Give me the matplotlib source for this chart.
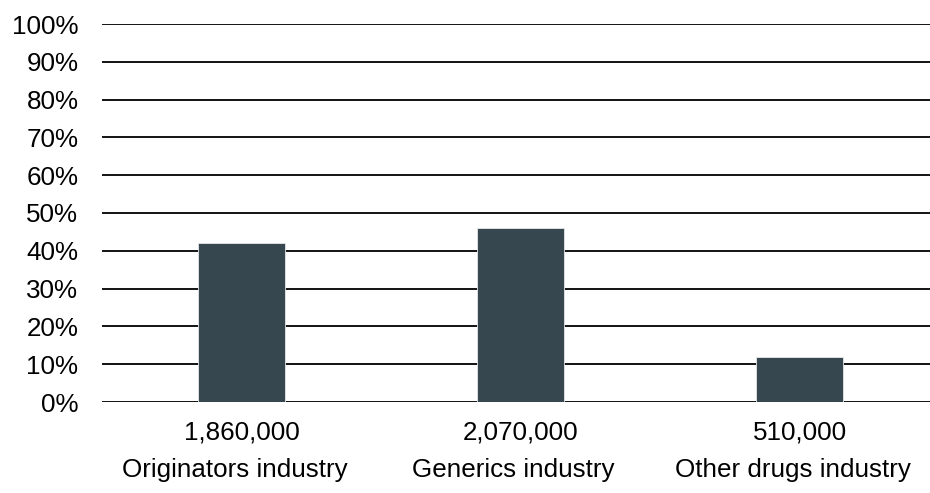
import matplotlib
matplotlib.use("Agg")
import matplotlib.pyplot as plt
from matplotlib.ticker import FuncFormatter

categories = ["Originators industry", "Generics industry", "Other drugs industry"]
counts = ["1,860,000", "2,070,000", "510,000"]
shares = [42, 46, 12]
yticks = [0, 10, 20, 30, 40, 50, 60, 70, 80, 90, 100]

plt.rcParams['font.family'] = ['Liberation Sans', 'DejaVu Sans']
FS = 18.7

fig = plt.figure(figsize=(9.3, 4.93), dpi=100)
ax = fig.add_axes([102/930, 1 - 402/493, 828/930, 378/493])

x = list(range(len(categories)))
ax.bar(x, shares, width=0.312, color='#37474F', edgecolor='#e6e9eb',
       linewidth=0.6, zorder=3)

ax.set_ylim(0, 100)
ax.set_xlim(-0.5, (930 - 241.5) / 279)
ax.set_yticks(yticks)
ax.yaxis.set_major_formatter(FuncFormatter(lambda v, p: f"{int(v)}%"))
ax.grid(axis='y', color='black', linewidth=1.3, zorder=1)
ax.set_axisbelow(True)
for s in ax.spines.values():
    s.set_visible(False)
ax.tick_params(axis='y', length=0, pad=17, labelsize=FS, labelcolor='black')
ax.set_xticks(x)
ax.set_xticklabels(counts)
ax.tick_params(axis='x', length=0, pad=13.5, labelsize=FS, labelcolor='black')

for xi, cat in zip(x, categories):
    ax.text(xi - 0.025, -(477.5 - 402) / 378, cat, transform=ax.get_xaxis_transform(),
            ha='center', va='baseline', fontsize=FS, color='black')

fig.savefig("out.png", dpi=100)
